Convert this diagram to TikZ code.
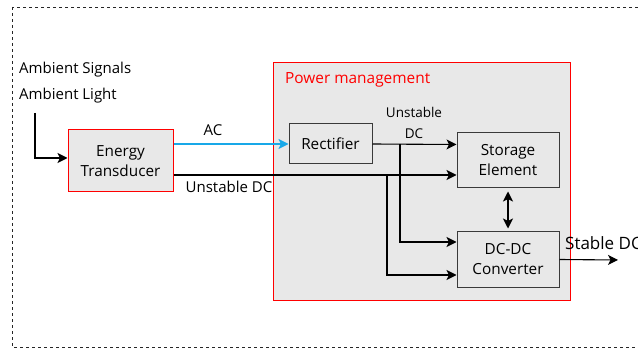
\documentclass[tikz,border=0pt]{standalone}
\usepackage{fontspec}
\setmainfont{Open Sans}
\usetikzlibrary{arrows.meta,calc}
\definecolor{boxgray}{HTML}{E8E8E8}
\definecolor{linegray}{HTML}{3A3A3A}
\definecolor{acblue}{HTML}{18A8E8}
\begin{document}
\begin{tikzpicture}[x=1pt,y=-1pt,
  >={Stealth[length=10pt,width=10pt,inset=2.5pt]},
  lbl/.style={font=\fontsize{15}{17}\selectfont, inner sep=0pt},
  blk/.style={draw=linegray, line width=1pt, fill=boxgray, font=\fontsize{15.3}{20}\selectfont, align=center, inner sep=0pt},
  conn/.style={line width=1.1pt, draw=black, ->}]
\useasboundingbox (0,0) rectangle (638,350);
\clip (0,0) rectangle (638,350);
% outer dashed frame
\draw[line width=0.9pt, dash pattern=on 3pt off 3pt, draw=black!85] (12,7) rectangle (660,347);
% power management box
\node[draw=red, line width=1pt, fill=boxgray, minimum width=297, minimum height=237, inner sep=0pt] (pm) at (421.5,181.5) {};
\node[lbl, anchor=west, text=red, font=\fontsize{15.4}{17}\selectfont] (pmlabel) at (285,80) {Power management};
% ambient labels
\node[lbl, anchor=west] (amb1) at (19,70) {Ambient Signals};
\node[lbl, anchor=west] (amb2) at (19,96) {Ambient Light};
% blocks
\node[blk, draw=red, minimum width=105, minimum height=62] (et) at (120.5,161) {Energy\\Transducer};
\node[blk, minimum width=83, minimum height=40] (rect) at (330.5,144) {Rectifier};
\node[blk, minimum width=102, minimum height=55] (stor) at (508,160.5) {Storage\\Element};
\node[blk, minimum width=102, minimum height=55] (conv) at (508,259.5) {DC-DC\\Converter};
% coordinates
\coordinate (ambin) at (35,113);
\coordinate (sinA) at ($(stor.west)+(0,-16)$);
\coordinate (sinB) at ($(stor.west)+(0,14.5)$);
\coordinate (cinA) at ($(conv.west)+(0,-17.5)$);
\coordinate (cinB) at ($(conv.west)+(0,15.5)$);
\coordinate (j1) at (400,144);
\coordinate (j2) at (387,175);
\coordinate (out) at (618,260);
% connectors
\draw[conn] (ambin) |- ($(et.west)+(0,-3)$);
\draw[conn, draw=acblue, fill=acblue] (et.east |- rect.west) -- (rect.west);
\draw[conn] (et.east |- sinB) -- (sinB);
\draw[conn] (rect.east) -- (sinA);
\draw[conn] (j1) |- (cinA);
\draw[conn] (j2) |- (cinB);
\draw[line width=1.1pt, <->] ($(stor.south)+(0,3)$) -- ($(conv.north)+(0,-3)$);
\draw[conn] (conv.east) -- (out);
% labels
\node[lbl] (aclbl) at (213,130) {AC};
\node[lbl] (udclbl) at (229,187) {Unstable DC};
\node[lbl, font=\fontsize{13.5}{21}\selectfont, align=center] (udc2) at (414,123) {Unstable\\DC};
\node[lbl, anchor=west, font=\fontsize{17}{19}\selectfont] (sdc) at (565,243) {Stable DC};
\end{tikzpicture}
\end{document}
